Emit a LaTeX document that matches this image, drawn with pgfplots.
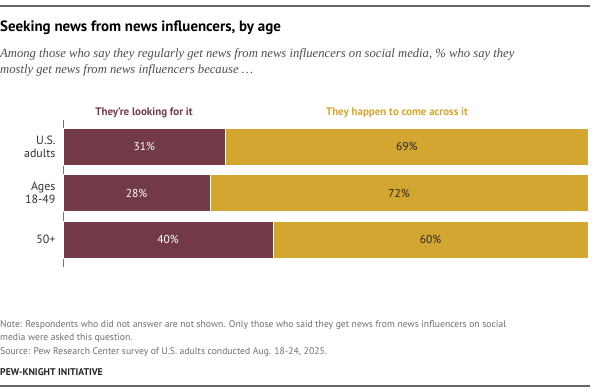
\documentclass[border=0pt]{standalone}
\usepackage{pgfplots}
\pgfplotsset{compat=1.18}
\usepackage{fontspec}
\setmainfont{PT Sans}
\newfontfamily\serifit{Liberation Serif}
\definecolor{maroon}{HTML}{713A46}
\definecolor{gold}{HTML}{D3A531}
\definecolor{notegray}{HTML}{6E6E6E}
\pgfplotsset{
  chartgeom/.style={
    at={(63bp,124bp)}, anchor=south west,
    scale only axis, width=525bp, height=147bp,
    xmin=0, xmax=100, ymin=-0.58, ymax=2.59, y dir=reverse, clip=false,
  },
}
\begin{document}
\begin{tikzpicture}
\path[use as bounding box] (0bp,0bp) rectangle (600bp,391bp);
\draw[line width=1.6bp, draw=black!60] (0bp,385bp) -- (590bp,385bp);
\node[anchor=base west, inner sep=0, font=\fontsize{15}{18}\selectfont\bfseries] at (0bp,359bp) {Seeking news from news influencers, by age};
\node[anchor=base west, inner sep=0, align=left, text=black!70, font=\fontsize{12.7}{17}\selectfont\serifit\itshape] at (0bp,317bp) {Among those who say they regularly get news from news influencers on social media, \% who say they\\ mostly get news from news influencers because \dots};
\node[anchor=base, inner sep=0, text=maroon, font=\fontsize{11}{13}\selectfont\bfseries] at (144bp,275bp) {They’re looking for it};
\node[anchor=base, inner sep=0, text=gold, font=\fontsize{11}{13}\selectfont\bfseries] at (397bp,275bp) {They happen to come across it};
\begin{axis}[
  chartgeom,
  xbar stacked, bar width=37bp,
  axis x line=none, axis y line*=left,
  axis line style={draw=black!55, line width=0.8bp},
  ytick={0,1,2}, yticklabels={{U.S.\\adults},{Ages\\18-49},{50+}},
  yticklabel style={align=right, font=\fontsize{12}{13}\selectfont, text=black!80, xshift=-4bp},
  major tick length=0pt,
]
\addplot[fill=maroon, draw=white, line width=0.6bp] coordinates {(31,0) (28,1) (40,2)};
\addplot[fill=gold, draw=white, line width=0.6bp] coordinates {(69,0) (72,1) (60,2)};
\end{axis}
\begin{axis}[chartgeom, hide axis]
\addplot[draw=none, mark=none, nodes near coords, point meta=explicit symbolic,
  every node near coord/.append style={anchor=center, text=white, font=\fontsize{11.5}{13}\selectfont}]
  coordinates {(15.5,0) [31\%] (14,1) [28\%] (20,2) [40\%]};
\addplot[draw=none, mark=none, nodes near coords, point meta=explicit symbolic,
  every node near coord/.append style={anchor=center, text=black!85, font=\fontsize{11.5}{13}\selectfont}]
  coordinates {(65.5,0) [69\%] (64,1) [72\%] (70,2) [60\%]};
\end{axis}
\node[anchor=base west, inner sep=0, align=left, text=notegray, font=\fontsize{9.7}{13.5}\selectfont] at (0bp,37bp) {Note: Respondents who did not answer are not shown. Only those who said they get news from news influencers on social\\media were asked this question.\\Source: Pew Research Center survey of U.S. adults conducted Aug. 18-24, 2025.};
\node[anchor=base west, inner sep=0, text=black!85, font=\fontsize{9.8}{12}\selectfont\bfseries] at (0bp,16bp) {PEW-KNIGHT INITIATIVE};
\draw[line width=1.6bp, draw=black!60] (0bp,5bp) -- (590bp,5bp);
\end{tikzpicture}
\end{document}
